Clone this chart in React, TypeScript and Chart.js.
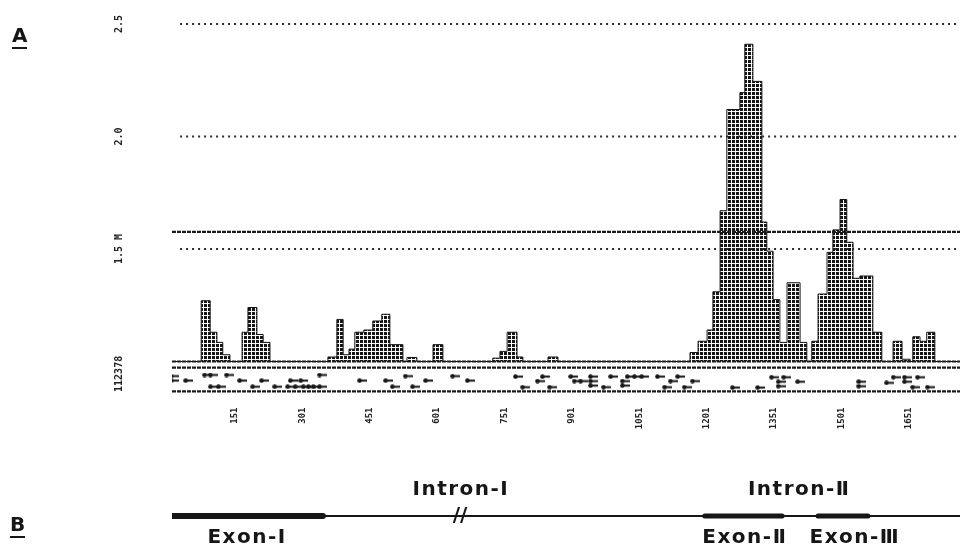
import React, { useEffect, useRef } from 'react';
import { Chart, registerables } from 'chart.js';
Chart.register(...registerables);

// ---------- data ----------
const X_MIN = 11;
const X_MAX = 1765;
const tickValues = [151, 301, 451, 601, 751, 901, 1051, 1201, 1351, 1501, 1651];

const yLabelValues = [2.5, 2.0, 1.5, 0.945];
const yLabelTexts = ['2.5', '2.0', '1.5 M', '112378'];

const dottedLevels = [2.5, 2.0, 1.5];
const solidLevels = [1.576, 1.0, 0.973, 0.867];

const histX = [
  11, 76, 96, 111, 124, 140,
  167, 180, 200, 214, 229,
  358, 378, 392, 405, 418, 438, 458, 478, 496, 525, 534, 556, 592, 614,
  725, 741, 757, 779, 792, 848, 870,
  1164, 1182, 1202, 1215, 1231, 1246, 1275, 1286, 1304, 1324, 1335, 1349, 1364,
  1380, 1409, 1424, 1435, 1449, 1469, 1482, 1498, 1513, 1527, 1542, 1571, 1591,
  1616, 1636, 1654, 1660, 1676, 1691, 1709, 1765,
];
const histY = [
  1.0, 1.27, 1.13, 1.085, 1.03, 1.0,
  1.13, 1.24, 1.12, 1.085, 1.0,
  1.02, 1.187, 1.03, 1.055, 1.13, 1.14, 1.18, 1.21, 1.075, 1.0, 1.018, 1.0, 1.075, 1.0,
  1.015, 1.045, 1.13, 1.02, 1.0, 1.02, 1.0,
  1.04, 1.09, 1.14, 1.31, 1.67, 2.12, 2.195, 2.41, 2.245, 1.62, 1.49, 1.275, 1.085,
  1.35, 1.085, 1.0, 1.09, 1.3, 1.485, 1.585, 1.72, 1.53, 1.37, 1.38, 1.13, 1.0,
  1.09, 1.01, 1.0, 1.11, 1.09, 1.13, 1.0, 1.0,
];

const markX = [
  15, 15, 47, 89, 102, 138, 102, 120, 167, 196, 216, 245, 274, 280, 291, 303, 309, 320, 331,
  345, 345, 434, 492, 507, 536, 552, 581, 641, 674, 781, 797, 830, 841, 857, 904, 912, 926,
  948, 948, 948, 977, 993, 1019, 1019, 1030, 1046, 1062, 1097, 1113, 1126, 1142, 1157, 1175,
  1264, 1320, 1351, 1366, 1366, 1378, 1409, 1545, 1545, 1607, 1622, 1647, 1647, 1665, 1676, 1698,
];
const markY = [
  0.935, 0.915, 0.915, 0.94, 0.94, 0.94, 0.888, 0.888, 0.915, 0.888, 0.915, 0.888, 0.888, 0.915, 0.888, 0.915, 0.888, 0.888, 0.888,
  0.94, 0.888, 0.915, 0.915, 0.888, 0.935, 0.888, 0.915, 0.935, 0.915, 0.933, 0.886, 0.913, 0.933, 0.886, 0.933, 0.913, 0.913,
  0.933, 0.913, 0.893, 0.886, 0.933, 0.913, 0.893, 0.933, 0.933, 0.933, 0.933, 0.886, 0.913, 0.933, 0.886, 0.913,
  0.884, 0.884, 0.93, 0.91, 0.89, 0.93, 0.91, 0.91, 0.89, 0.905, 0.93, 0.93, 0.91, 0.886, 0.93, 0.886,
];

// gene structure (panel B)
const geneLineY = 0.303;
const intronSpan = [11, 1765];
const exonStarts = [11, 1197, 1449];
const exonEnds = [347, 1369, 1560];
const exonWidths = [6, 5, 5];
const geneLabels = ['Exon-Ⅰ', 'Intron-Ⅰ', 'Intron-Ⅱ', 'Exon-Ⅱ', 'Exon-Ⅲ'];
const geneLabelX = [178, 654, 1407, 1286, 1531];
const geneLabelY = [0.1, 0.54, 0.54, 0.1, 0.1];
const breakX = 652;

const INK = '#161616';

function makeMarkImage(): HTMLCanvasElement {
  const c = document.createElement('canvas');
  c.width = 10;
  c.height = 5;
  const g = c.getContext('2d')!;
  g.fillStyle = INK;
  g.beginPath();
  g.arc(2.5, 2.5, 2.3, 0, Math.PI * 2);
  g.fill();
  g.fillRect(3, 1.5, 7, 2);
  return c;
}

export default function App() {
  const refA = useRef<HTMLCanvasElement>(null);
  const refB = useRef<HTMLCanvasElement>(null);

  useEffect(() => {
    document.body.style.margin = '0';
    const ctxA = refA.current!.getContext('2d')!;
    const tile = document.createElement('canvas');
    tile.width = 4;
    tile.height = 4;
    const tg = tile.getContext('2d')!;
    tg.fillStyle = INK;
    tg.fillRect(0, 0, 3, 3);
    const pattern = ctxA.createPattern(tile, 'repeat')!;
    const markImg = makeMarkImage();

    const lineDatasets: any[] = [];
    dottedLevels.forEach((L) => {
      lineDatasets.push({
        type: 'line',
        data: [{ x: 29, y: L }, { x: X_MAX, y: L }],
        borderColor: '#2a2a2a',
        borderWidth: 2,
        borderDash: [2, 4],
        pointRadius: 0,
        fill: false,
      });
    });
    solidLevels.forEach((L) => {
      lineDatasets.push({
        type: 'line',
        data: [{ x: X_MIN, y: L }, { x: X_MAX, y: L }],
        borderColor: '#1a1a1a',
        borderWidth: 2.2,
        borderDash: [4, 1],
        pointRadius: 0,
        fill: false,
      });
    });

    const yLabelPlugin = {
      id: 'yLabels',
      afterDraw(chart: any) {
        const c = chart.ctx;
        const ys = chart.scales.y;
        c.save();
        c.fillStyle = '#222';
        c.font = 'bold 10px "DejaVu Sans Mono"';
        c.textAlign = 'center';
        c.textBaseline = 'middle';
        yLabelValues.forEach((v, i) => {
          const y = ys.getPixelForValue(v);
          c.save();
          c.translate(119, y);
          c.rotate(-Math.PI / 2);
          c.fillText(yLabelTexts[i], 0, 0);
          c.restore();
        });
        c.restore();
      },
    };

    const chartA = new Chart(ctxA, {
      type: 'line',
      data: {
        datasets: [
          ...lineDatasets,
          {
            type: 'scatter',
            data: markX.map((x, i) => ({ x, y: markY[i] })),
            pointStyle: markImg as any,
            pointRadius: 5,
            showLine: false,
          } as any,
          {
            type: 'line',
            data: histX.map((x, i) => ({ x, y: histY[i] })),
            stepped: true,
            fill: { value: 1.0 },
            backgroundColor: pattern as any,
            borderColor: INK,
            borderWidth: 1,
            pointRadius: 0,
          } as any,
        ],
      },
      options: {
        responsive: false,
        animation: false,
        devicePixelRatio: 1,
        layout: { autoPadding: false, padding: { left: 172, right: 0, top: 10.5, bottom: 0 } },
        plugins: { legend: { display: false }, tooltip: { enabled: false } },
        scales: {
          x: {
            type: 'linear',
            min: X_MIN,
            max: X_MAX,
            grid: { display: false },
            border: { display: false },
            afterBuildTicks: (s: any) => {
              s.ticks = tickValues.map((v) => ({ value: v }));
            },
            afterFit: (s: any) => {
              s.height = 42.5;
              s.paddingLeft = 0;
              s.paddingRight = 0;
            },
            ticks: {
              autoSkip: false,
              minRotation: 90,
              maxRotation: 90,
              padding: 2,
              color: '#222',
              font: { family: '"DejaVu Sans Mono"', size: 9, weight: 'bold' },
              callback: (v: any) => String(v),
            },
          },
          y: { type: 'linear', display: false, min: 0.84, max: 2.56 },
        },
      },
      plugins: [yLabelPlugin],
    } as any);

    const geneLabelPlugin = {
      id: 'geneLabels',
      afterDatasetsDraw(chart: any) {
        const c = chart.ctx;
        const xs = chart.scales.x;
        const ys = chart.scales.y;
        c.save();
        c.fillStyle = INK;
        c.font = 'bold 20px "DejaVu Sans"';
        (c as any).letterSpacing = '1.5px';
        c.textAlign = 'center';
        c.textBaseline = 'middle';
        geneLabels.forEach((t, i) => {
          c.fillText(t, xs.getPixelForValue(geneLabelX[i]), ys.getPixelForValue(geneLabelY[i]));
        });
        (c as any).letterSpacing = '0px';
        c.font = 'bold 20px "DejaVu Sans"';
        c.fillText('//', xs.getPixelForValue(breakX), ys.getPixelForValue(geneLineY));
        c.restore();
      },
    };

    const chartB = new Chart(refB.current!.getContext('2d')!, {
      type: 'line',
      data: {
        datasets: [
          {
            data: [{ x: intronSpan[0], y: geneLineY }, { x: intronSpan[1], y: geneLineY }],
            borderColor: INK,
            borderWidth: 2,
            pointRadius: 0,
          },
          ...exonStarts.map((s, i) => ({
            data: [{ x: s, y: geneLineY }, { x: exonEnds[i], y: geneLineY }],
            borderColor: INK,
            borderWidth: exonWidths[i],
            borderCapStyle: 'round',
            pointRadius: 0,
          })),
        ],
      },
      options: {
        responsive: false,
        animation: false,
        devicePixelRatio: 1,
        layout: { autoPadding: false, padding: { left: 172, right: 0, top: 0, bottom: 0 } },
        plugins: { legend: { display: false }, tooltip: { enabled: false } },
        scales: {
          x: { type: 'linear', display: false, min: X_MIN, max: X_MAX },
          y: { type: 'linear', display: false, min: 0, max: 1 },
        },
      },
      plugins: [geneLabelPlugin],
    } as any);

    return () => {
      chartA.destroy();
      chartB.destroy();
    };
  }, []);

  const letter: React.CSSProperties = {
    position: 'absolute',
    font: 'bold 20px "DejaVu Sans"',
    color: INK,
    lineHeight: '20px',
    borderBottom: `2px solid ${INK}`,
    paddingBottom: 2,
  };

  return (
    <div style={{ position: 'relative', width: 960, height: 549, background: '#fff', overflow: 'hidden' }}>
      <canvas ref={refA} width={960} height={440} style={{ position: 'absolute', left: 0, top: 0 }} />
      <canvas ref={refB} width={960} height={109} style={{ position: 'absolute', left: 0, top: 440 }} />
      <div style={{ ...letter, left: 12, top: 25 }}>A</div>
      <div style={{ ...letter, left: 10, top: 514 }}>B</div>
    </div>
  );
}
